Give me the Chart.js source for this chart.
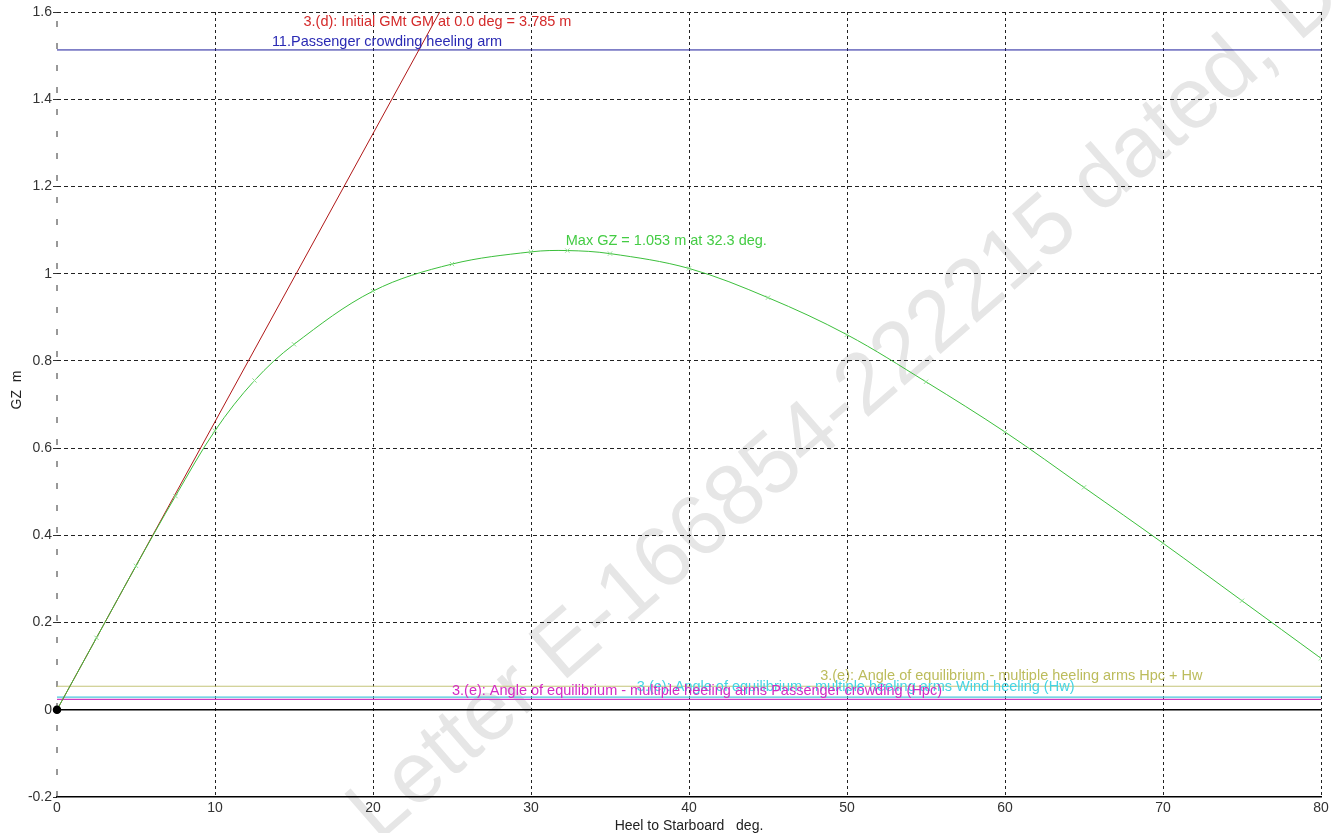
<!DOCTYPE html>
<html>
<head>
<meta charset="utf-8">
<script src="https://cdn.jsdelivr.net/npm/chart.js@4/dist/chart.umd.min.js"></script>
<style>
  html, body { margin: 0; padding: 0; background: #fff; }
  #wrap { width: 1334px; height: 833px; position: relative; }
</style>
</head>
<body>
<div id="wrap"><canvas id="chart"></canvas></div>
<script>
// GZ curve
var heel = [0, 2.5, 5, 7.5, 10, 12.5, 15, 20, 25, 30, 32.3, 35, 40, 45, 50, 55, 60, 65, 70, 75, 80]
var gz = [0, 0.165, 0.33, 0.49, 0.64, 0.755, 0.838, 0.96, 1.022, 1.05, 1.053, 1.046, 1.012, 0.945, 0.86, 0.752, 0.637, 0.51, 0.382, 0.25, 0.118]

// initial GM line: GZ = GM at 1 rad (57.3 deg)
var gmHeel = [0, 57.3]
var gmValue = [0, 3.785]

// heeling arms (constant)
var armRange = [0, 80]
var passengerArm = 1.513
var equilCombined = 0.054
var equilWind = 0.029
var equilPassenger = 0.024

var xTicks = [0, 10, 20, 30, 40, 50, 60, 70, 80]
var yMin = -0.2, yMax = 1.6, yStep = 0.2

function pts(xs, ys) {
    return xs.map(function(x, i) { return { x: x, y: ys[i] } })
}
function flat(v) {
    return armRange.map(function(x) { return { x: x, y: v } })
}

var labels = [
    { text: '3.(d): Initial GMt GM at 0.0 deg = 3.785 m', x: 15.6, y: 1.577, color: '#d42a2a' },
    { text: '11.Passenger crowding heeling arm', x: 13.6, y: 1.532, color: '#2a2ab4' },
    { text: 'Max GZ = 1.053 m at 32.3 deg.', x: 32.2, y: 1.074, color: '#44cc44' },
    { text: '3.(e): Angle of equilibrium - multiple heeling arms Hpc + Hw', x: 48.3, y: 0.077, color: '#bcbc5c' },
    { text: '3.(e): Angle of equilibrium - multiple heeling arms Wind heeling (Hw)', x: 36.7, y: 0.053, color: '#44d4e4' },
    { text: '3.(e): Angle of equilibrium - multiple heeling arms Passenger crowding (Hpc)', x: 25.0, y: 0.044, color: '#d42ac4' }
]

var FONT = '"Liberation Sans", Arial, sans-serif'

var paperPlugin = {
    id: 'paper',
    beforeDraw(chart) {
        var ctx = chart.ctx
        ctx.save()
        ctx.fillStyle = '#fff'
        ctx.fillRect(0, 0, chart.width, chart.height)
        ctx.translate(378, 843)
        ctx.rotate(-41 * Math.PI / 180)
        ctx.font = '86px ' + FONT
        ctx.fillStyle = '#e6e6e6'
        ctx.textBaseline = 'alphabetic'
        ctx.fillText('Letter E-166854-222215 dated, D', 0, 0)
        ctx.restore()
    }
}

var labelPlugin = {
    id: 'notes',
    afterDatasetsDraw(chart) {
        var ctx = chart.ctx
        var xs = chart.scales.x, ys = chart.scales.y
        ctx.save()
        ctx.font = '14.5px ' + FONT
        ctx.textBaseline = 'middle'
        ctx.textAlign = 'left'
        labels.forEach(function(l) {
            ctx.fillStyle = l.color
            ctx.fillText(l.text, xs.getPixelForValue(l.x), ys.getPixelForValue(l.y))
        })
        // y axis title
        ctx.translate(17, 390)
        ctx.rotate(-Math.PI / 2)
        ctx.textAlign = 'center'
        ctx.font = '14px ' + FONT
        ctx.fillStyle = '#222'
        ctx.fillText('GZ  m', 0, 0)
        ctx.restore()
    }
}

var el = document.getElementById('chart')
var options = {
    type: 'scatter',
    data: {
        datasets: [
            {
                label: 'origin',
                data: flat(0),
                showLine: true,
                borderColor: '#000',
                borderWidth: 1.5,
                pointRadius: [3.5, 0],
                pointBackgroundColor: '#000',
                pointBorderColor: '#000',
                clip: 6
            },
            {
                label: 'GZ',
                data: pts(heel, gz),
                showLine: true,
                borderColor: '#3cbf3c',
                borderWidth: 1,
                tension: 0.35,
                pointStyle: 'crossRot',
                pointRadius: 3,
                pointBorderColor: '#8fe08f',
                pointBorderWidth: 1
            },
            {
                label: 'GM',
                data: pts(gmHeel, gmValue),
                showLine: true,
                borderColor: '#b01818',
                borderWidth: 1,
                pointRadius: 0
            },
            {
                label: 'Passenger crowding',
                data: flat(passengerArm),
                showLine: true,
                borderColor: '#1c1c9c',
                borderWidth: 1,
                pointRadius: 0
            },
            {
                label: 'Hpc + Hw',
                data: flat(equilCombined),
                showLine: true,
                borderColor: '#c4c47a',
                borderWidth: 1.2,
                pointRadius: 0
            },
            {
                label: 'Hw',
                data: flat(equilWind),
                showLine: true,
                borderColor: '#48c8dc',
                borderWidth: 1.2,
                pointRadius: 0
            },
            {
                label: 'Hpc',
                data: flat(equilPassenger),
                showLine: true,
                borderColor: '#cc3cc4',
                borderWidth: 1.2,
                pointRadius: 0
            },
            {
                label: 'axis marks',
                data: [{ x: 0, y: yMin }, { x: 0, y: yMax }],
                showLine: true,
                borderColor: '#333',
                borderWidth: 1,
                borderDash: [6, 16],
                pointRadius: 0,
                clip: 4
            }
        ]
    },
    options: {
        responsive: true,
        maintainAspectRatio: false,
        animation: false,
        layout: { padding: { top: 12, right: 13, left: 0, bottom: 0 } },
        plugins: {
            legend: { display: false },
            tooltip: { enabled: false }
        },
        scales: {
            x: {
                type: 'linear',
                min: 0,
                max: 80,
                afterBuildTicks(scale) {
                    scale.ticks = xTicks.map(function(v) { return { value: v } })
                },
                afterFit(scale) { scale.height = 36 },
                grid: {
                    color(c) { return c.tick && c.tick.value === 0 ? 'rgba(0,0,0,0)' : '#222' },
                    lineWidth: 1,
                    drawTicks: false
                },
                border: { display: true, color: '#000', width: 1.5, dash: [3, 3] },
                ticks: {
                    padding: 3,
                    color: '#333',
                    font: { family: FONT, size: 14 },
                    maxRotation: 0
                },
                title: {
                    display: true,
                    text: 'Heel to Starboard   deg.',
                    color: '#222',
                    font: { family: FONT, size: 14 },
                    padding: { top: 0, bottom: -2 }
                }
            },
            y: {
                min: yMin,
                max: yMax,
                afterFit(scale) { scale.width = 57 },
                grid: {
                    color(c) {
                        var v = c.tick ? Math.round(c.tick.value * 10) / 10 : null
                        return (v === 0 || v === -0.2) ? 'rgba(0,0,0,0)' : '#222'
                    },
                    tickColor: '#333',
                    lineWidth: 1,
                    drawTicks: true,
                    tickLength: 4
                },
                border: { display: false, dash: [4, 3] },
                ticks: {
                    stepSize: yStep,
                    padding: 1,
                    color: '#333',
                    font: { family: FONT, size: 14 },
                    callback(v) { return String(Number(v.toFixed(1))) }
                },
                title: { display: false }
            }
        }
    },
    plugins: [paperPlugin, labelPlugin]
}
var chart = new Chart(el, options)
</script>
</body>
</html>
